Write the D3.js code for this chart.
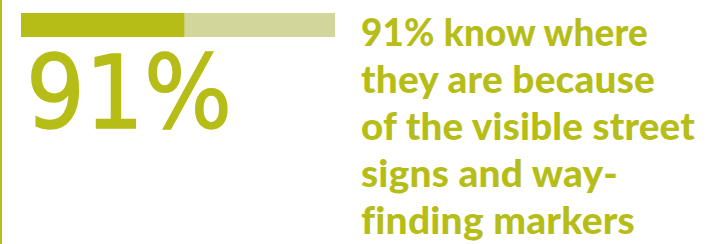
<!DOCTYPE html>
<html>
<head>
<meta charset="utf-8">
<script src="https://cdn.jsdelivr.net/npm/d3@7"></script>
<style>
	body { margin: 0; background: #fff; }
	svg { display: block; }
	text { font-variant-ligatures: none; font-feature-settings: "liga" 0, "clig" 0; }
</style>
</head>
<body>
<svg id="svg"></svg>
<script>

// ---- data ---------------------------------------------------------------- //

const statValue = [91];
const barValue = [52];          // filled share of the bar, as drawn
const barMax = [100];
const headline = [
	"91% know where",
	"they are because",
	"of the visible street",
	"signs and way-",
	"finding markers"
];
const lineWidths = [287, 294, 334, 257, 274];

// ---- layout -------------------------------------------------------------- //

let width = 706,
	height = 244,
	dark = "#b6bd17",
	light = "#d3d69b";

const svg = d3.select("svg#svg")
	.attr("width", width)
	.attr("height", height);

// left rule
svg.append("rect")
	.attr("x", 0)
	.attr("y", 0)
	.attr("width", 2)
	.attr("height", height)
	.attr("fill", dark);

// progress bar
const xScale = d3.scaleLinear()
	.domain([0, barMax[0]])
	.range([21, 335]);

svg.append("rect")
	.attr("x", xScale(0))
	.attr("y", 13)
	.attr("width", xScale(barMax[0]) - xScale(0))
	.attr("height", 24)
	.attr("fill", light);

svg.selectAll("rect.fill")
	.data(barValue)
	.enter()
	.append("rect")
	.attr("class", "fill")
	.attr("x", xScale(0))
	.attr("y", 13)
	.attr("width", d => xScale(d) - xScale(0))
	.attr("height", 24)
	.attr("fill", dark);

// big number
svg.append("text")
	.text(`${statValue[0]}%`)
	.attr("x", 26)
	.attr("y", 128)
	.attr("font-family", "DejaVu Sans")
	.attr("font-size", 102)
	.attr("textLength", 206)
	.attr("lengthAdjust", "spacingAndGlyphs")
	.attr("fill", dark)
	.attr("stroke", dark)
	.attr("stroke-width", 1.5);

// headline
svg.selectAll("text.headline")
	.data(headline)
	.enter()
	.append("text")
	.attr("class", "headline")
	.attr("x", 361)
	.attr("y", (d, i) => 46 + i * 47)
	.attr("font-family", "Lato")
	.attr("font-weight", 900)
	.attr("font-size", 37)
	.attr("letter-spacing", 0.2)
	.attr("textLength", (d, i) => lineWidths[i])
	.attr("lengthAdjust", "spacingAndGlyphs")
	.attr("fill", dark)
	.text(d => d);

</script>
</body>
</html>
